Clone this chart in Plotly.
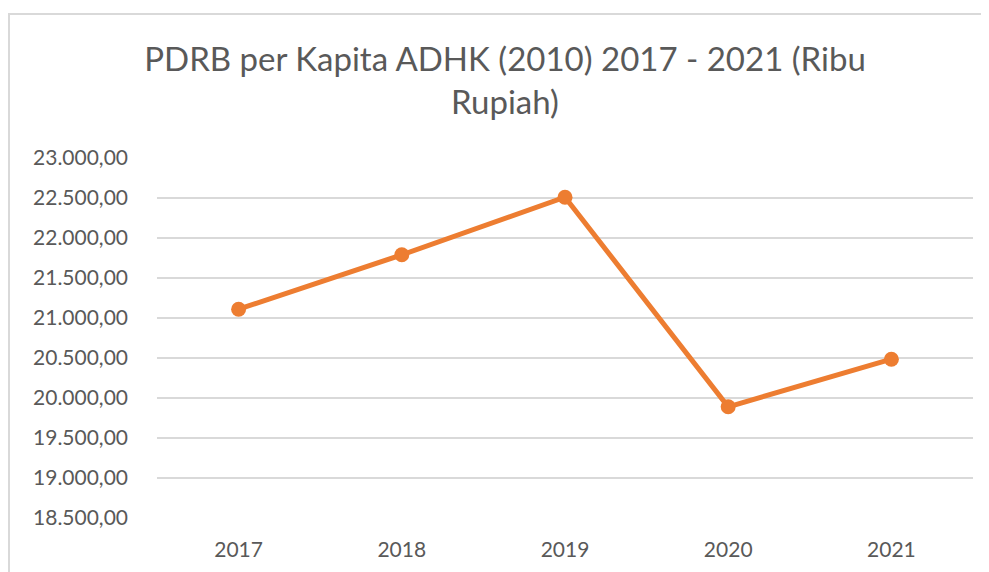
import plotly.graph_objects as go

# PDRB per kapita ADHK 2010, ribu rupiah
years = ["2017", "2018", "2019", "2020", "2021"]
pdrb = [21110, 21790, 22510, 19890, 20485]

y_ticks = [18500, 19000, 19500, 20000, 20500, 21000, 21500, 22000, 22500, 23000]
y_tick_labels = ["18.500,00", "19.000,00", "19.500,00", "20.000,00", "20.500,00",
                 "21.000,00", "21.500,00", "22.000,00", "22.500,00", "23.000,00"]

orange = "#ED7D31"
grid = "#D9D9D9"
txt = "#595959"

fig = go.Figure()
fig.add_trace(go.Scatter(
  x=years, y=pdrb,
  mode="lines+markers",
  line=dict(color=orange, width=5),
  marker=dict(color=orange, size=15),
  showlegend=False
))

# page body adds an 8px margin, so the figure is offset by (8, 8)
fig.update_layout(
  width=989, height=572,
  margin=dict(l=149, r=24, t=150, b=62),
  paper_bgcolor="white", plot_bgcolor="white",
  font=dict(family="Lato", color=txt),
  title=dict(
    text="PDRB per Kapita ADHK (2010) 2017 - 2021 (Ribu<br>Rupiah)",
    x=497/989, xanchor="center", xref="container",
    y=1 - 63/572, yanchor="top", yref="container",
    font=dict(size=33, color=txt, family="Lato")
  ),
  xaxis=dict(
    type="category", range=[-0.5, 4.5],
    showgrid=False, showline=False, zeroline=False,
    ticks="", tickfont=dict(size=21, color=txt),
    ticklabelstandoff=17
  ),
  yaxis=dict(
    range=[18500, 23000],
    tickvals=y_ticks, ticktext=y_tick_labels,
    showgrid=True, gridcolor=grid, gridwidth=1.5,
    zeroline=False, showline=False, ticks="",
    tickfont=dict(size=21, color=txt),
    ticklabelstandoff=28
  ),
  shapes=[dict(
    type="rect", xref="paper", yref="paper",
    x0=(1 - 149) / 816, x1=1.2, y0=-0.5, y1=(510 - 6) / 360,
    line=dict(color=grid, width=2), fillcolor="rgba(0,0,0,0)", layer="below"
  )]
)

fig.write_html("out.html")
